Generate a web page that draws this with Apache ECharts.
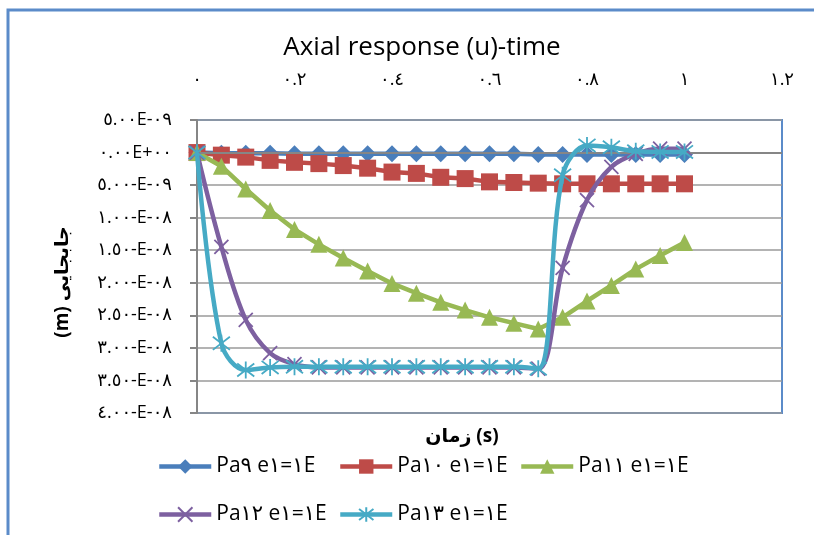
<!DOCTYPE html>
<html><head><meta charset="utf-8">
<script src="https://cdn.jsdelivr.net/npm/echarts@6/dist/echarts.min.js"></script>
<style>html,body{margin:0;padding:0;background:#fff}#c{width:814px;height:535px}</style>
</head><body><div id="c"></div>
<script>
const timeValues = [0,0.05,0.1,0.15,0.2,0.25,0.3,0.35,0.4,0.45,0.5,0.55,0.6,0.65,0.7,0.75,0.8,0.85,0.9,0.95,1.0];
const pa9  = [0,-0.1,-0.1,-0.1,-0.2,-0.2,-0.2,-0.2,-0.2,-0.2,-0.2,-0.2,-0.2,-0.2,-0.3,-0.3,-0.3,-0.3,-0.3,-0.3,-0.3];
const pa10 = [0,-0.4,-0.7,-1.2,-1.5,-1.7,-2.0,-2.4,-3.0,-3.2,-3.8,-4.0,-4.5,-4.6,-4.7,-4.8,-4.8,-4.8,-4.8,-4.8,-4.8];
const pa11 = [0,-2.1,-5.6,-8.9,-11.8,-14.1,-16.2,-18.2,-20.1,-21.6,-23.0,-24.2,-25.3,-26.2,-27.1,-25.3,-22.8,-20.4,-17.9,-15.8,-13.8];
const pa12 = [0,-14.5,-25.7,-30.8,-32.5,-33.0,-33.0,-33.0,-33.0,-33.0,-33.0,-33.0,-33.0,-33.0,-33.2,-17.7,-7.3,-2.2,-0.2,0.6,0.6];
const pa13 = [0,-29.3,-33.4,-33.0,-32.9,-32.9,-32.9,-32.9,-32.9,-32.9,-32.9,-32.9,-32.9,-32.9,-33.2,-3.5,1.1,0.8,0.2,0.1,0.1];
const valueScale = 1e-9;
const seriesNames = ['Pa٩ e١=١E','Pa١٠ e١=١E','Pa١١ e١=١E','Pa١٢ e١=١E','Pa١٣ e١=١E'];
const xTickLabels = ['٠','٠.٢','٠.٤','٠.٦','٠.٨','١','١.٢'];
const yTickLabels = ['٤.٠٠-E-٠٨','٣.٥٠-E-٠٨','٣.٠٠-E-٠٨','٢.٥٠-E-٠٨','٢.٠٠-E-٠٨','١.٥٠-E-٠٨','١.٠٠-E-٠٨','٥.٠٠-E-٠٩','٠.٠٠E+٠٠','٥.٠٠E-٠٩'];
const chartTitle = 'Axial response (u)-time';
const xAxisTitle = 'زمان (s)';
const yAxisTitle = '(m) جابجایی';

const FONT = "'Open Sans', 'DejaVu Sans', sans-serif";
const colors = ['#4A7EBB','#BE4B48','#98B954','#7D60A0','#46AAC5'];
const xPath = 'path://M0,0L10,10M10,0L0,10';
const starPath = 'path://M0,0L10,10M10,0L0,10M5,-1.5L5,11.5';
const symbols = ['diamond','rect','triangle',xPath,starPath];
const sizes = [17,17,17,14,17];
const Y_MIN = -40e-9, Y_MAX = 5e-9, Y_INT = 5e-9;

function pairs(arr){ return arr.map((v,i)=>[timeValues[i], v*valueScale]); }
const dataSets = [pa9,pa10,pa11,pa12,pa13];

const series = dataSets.map((d,i)=>{
  const isPath = i>=3;
  const s = {
    name: seriesNames[i], type:'line', data: pairs(d),
    symbol: symbols[i], symbolSize: sizes[i], showAllSymbol:true,
    smooth: isPath ? 0.35 : false,
    lineStyle:{color:colors[i], width:4.5},
    itemStyle: isPath ? {color:colors[i], borderColor:colors[i], borderWidth:1.8} : {color:colors[i]},
    emphasis:{disabled:true}, animation:false, z: 2+i
  };
  if(i===0){
    s.markLine = {silent:true, symbol:['none','none'], label:{show:false},
      lineStyle:{color:'#868686', width:2, type:'solid'}, data:[{yAxis:0}], animation:false};
  }
  return s;
});

const legendPos = [[152,451],[333,451],[514,451],[152,499],[333,499]];
const legends = seriesNames.map((n,i)=>({
  data:[n], left:legendPos[i][0], top:legendPos[i][1], itemWidth:52, itemHeight:18, itemGap:0,
  lineStyle:{width:4.5},
  textStyle:{fontSize:21, color:'#000', fontFamily:FONT}, selectedMode:false
}));

const chart = echarts.init(document.getElementById('c'), null, {renderer:'canvas'});
chart.setOption({
  animation:false,
  backgroundColor:'#fff',
  title:{text:chartTitle, left:417, textAlign:'center', top:30, textStyle:{fontSize:26, fontWeight:'normal', color:'#000', fontFamily:FONT}},
  legend: legends,
  grid:{left:197, right:32, top:120, bottom:122, show:true, borderColor:'#5B8BC9', borderWidth:2, backgroundColor:'transparent'},
  xAxis:{type:'value', min:0, max:1.2, interval:0.2, position:'top',
    axisLine:{show:false}, axisTick:{show:false}, splitLine:{show:false},
    axisLabel:{margin:31, fontSize:18, color:'#000', fontFamily:FONT,
      formatter:(v)=>xTickLabels[Math.round(v/0.2)]}},
  yAxis:{type:'value', min:Y_MIN, max:Y_MAX, interval:Y_INT,
    axisLine:{show:true, onZero:false, lineStyle:{color:'#868686', width:2}},
    axisTick:{show:true, inside:false, length:7, lineStyle:{color:'#868686', width:2}},
    splitLine:{show:true, lineStyle:{color:'#9A9A9A', width:1.5}},
    axisLabel:{margin:25, fontSize:18, color:'#000', fontFamily:FONT,
      formatter:(v)=>yTickLabels[Math.round((v-Y_MIN)/Y_INT)]}},
  graphic:[
    {type:'rect', shape:{x:8, y:10, width:900, height:700}, style:{fill:'none', stroke:'#5B8BC9', lineWidth:3}, silent:true, z:-1},
    {type:'text', x:462, y:437, style:{text:xAxisTitle, font:"bold 19px "+FONT, fill:'#000', textAlign:'center', textVerticalAlign:'middle'}},
    {type:'text', x:63, y:282, rotation:Math.PI/2, style:{text:yAxisTitle, font:"bold 19px "+FONT, fill:'#000', textAlign:'center', textVerticalAlign:'middle'}}
  ],
  series: series
});
</script>
</body></html>
